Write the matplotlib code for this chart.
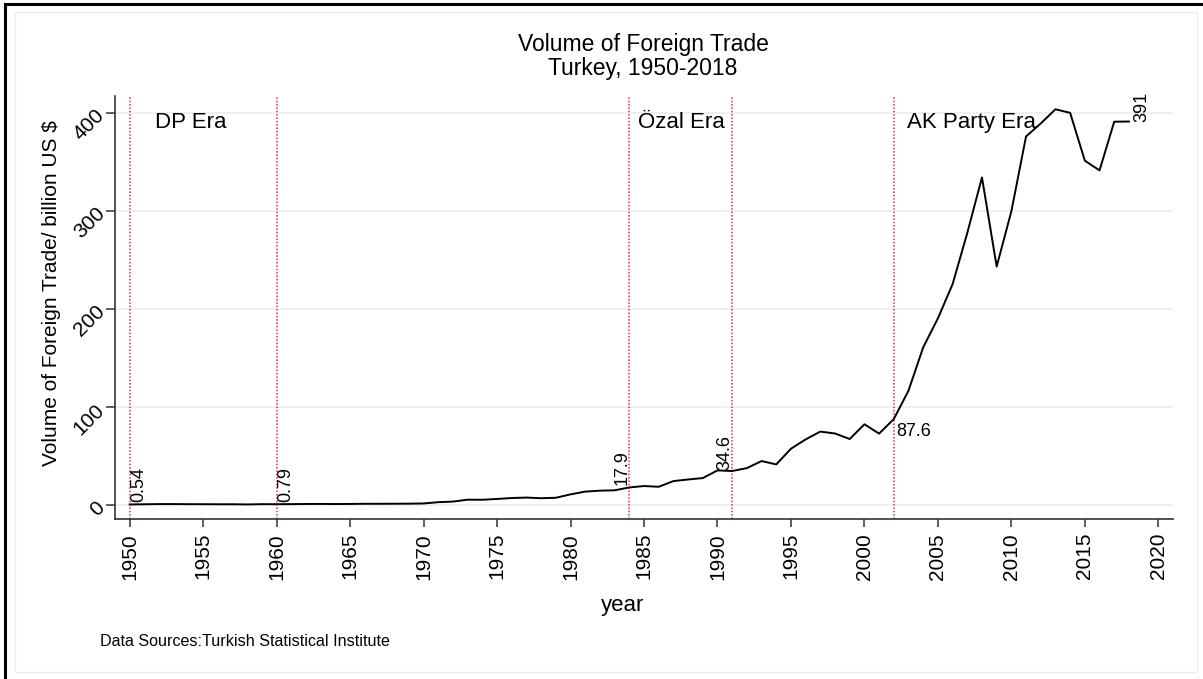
import matplotlib
matplotlib.use("Agg")
import matplotlib.pyplot as plt
from matplotlib.lines import Line2D
from matplotlib.patches import Rectangle

plt.rcParams['font.family'] = ['Liberation Sans', 'DejaVu Sans']

# data: Turkey volume of foreign trade (exports + imports), billion US $
years = list(range(1950, 2019))
volume = [0.54, 0.72, 0.92, 0.93, 0.81, 0.81, 0.71, 0.74, 0.56, 0.82,
          0.79, 0.86, 1.01, 1.06, 0.95, 1.04, 1.21, 1.21, 1.26, 1.34,
          1.54, 2.85, 3.45, 5.40, 5.31, 6.14, 7.09, 7.55, 6.89, 7.33,
          10.82, 13.64, 14.59, 14.96, 17.89, 19.30, 18.56, 24.35, 26.00, 27.42,
          35.26, 34.64, 37.59, 44.77, 41.38, 57.35, 66.85, 74.82, 72.90, 67.26,
          82.28, 72.73, 87.61, 116.59, 160.71, 190.25, 225.11, 277.33, 333.99, 243.07,
          299.43, 375.75, 389.01, 403.46, 399.84, 351.07, 341.15, 390.79, 390.97]

era_lines = [1950, 1960, 1984, 1991, 2002]
era_names = ["DP Era", "Özal Era", "AK Party Era"]
era_text_x = [1951.7, 1984.6, 2002.9]
# labelled points: year, text, (dx, dy) offset in px, rotation, ha, va
point_labels = [(1950, "0.54", (1, 2), 90, "left", "bottom"),
                (1960, "0.79", (1, 2), 90, "left", "bottom"),
                (1984, "17.9", (1, 2), 90, "right", "bottom"),
                (1991, "34.6", (1, 1), 90, "right", "bottom"),
                (2002, "87.6", (2, -4), 0, "left", "top"),
                (2018, "391", (4, 0), 90, "left", "bottom")]

W, H = 1203, 679
fig = plt.figure(figsize=(W / 100, H / 100), dpi=100)
fig.patch.set_facecolor("white")


def fx(px):
    return px / W


def fy(py):
    return 1 - py / H


# outer frame
fig.add_artist(Line2D([fx(5), 1], [fy(4), fy(4)], color="black", lw=2.2, transform=fig.transFigure))
fig.add_artist(Line2D([fx(5), fx(5)], [fy(4), 0], color="black", lw=2.2, transform=fig.transFigure))
fig.add_artist(Rectangle((fx(15), fy(672)), fx(1197) - fx(15), fy(12) - fy(672),
                         fill=False, ec="#e6eef0", lw=1, transform=fig.transFigure))

ax = fig.add_axes([fx(115), fy(519), fx(1173) - fx(115), fy(96) - fy(519)])
ax.set_facecolor("none")

ax.plot(years, volume, color="black", lw=1.4, zorder=3)

for x in era_lines:
    ax.axvline(x, color="#dc2a5a", lw=1.1, ls=(0, (1, 1.2)), zorder=2)

for x, name in zip(era_text_x, era_names):
    ax.text(x, 390, name, fontsize=16, ha="left", va="center", zorder=4)

for yr, txt, (dx, dy), rot, ha, va in point_labels:
    yv = volume[years.index(yr)]
    ax.annotate(txt, (yr, yv), xytext=(dx * 0.72, dy * 0.72), textcoords="offset points",
                rotation=rot, ha=ha, va=va, fontsize=13, zorder=4)

ax.set_xlim(1949, 2021)
ax.set_ylim(-14.3, 417)
ax.set_xticks(range(1950, 2021, 5))
ax.set_yticks([0, 100, 200, 300, 400])
ax.grid(axis="y", color="#e8eff1", lw=1.2)
ax.set_axisbelow(True)

for s in ["top", "right"]:
    ax.spines[s].set_visible(False)
for s in ["left", "bottom"]:
    ax.spines[s].set_color("#333333")
    ax.spines[s].set_linewidth(1.2)

ax.tick_params(axis="x", length=6, width=1.1, color="#333333", labelsize=15, pad=4, labelrotation=90)
ax.tick_params(axis="y", length=6.5, width=1.1, color="#333333", labelsize=15, pad=3)
for lab in ax.get_yticklabels():
    lab.set_rotation(45)
    lab.set_rotation_mode("anchor")
    lab.set_ha("right")
    lab.set_va("center")

fig.text(fx(643), fy(45), "Volume of Foreign Trade", fontsize=16.5, ha="center", va="center")
fig.text(fx(643), fy(68), "Turkey, 1950-2018", fontsize=16.5, ha="center", va="center")
fig.text(fx(52), fy(293), "Volume of Foreign Trade/ billion US $", fontsize=15,
         rotation=90, ha="center", va="center")
fig.text(fx(623), fy(606), "year", fontsize=16, ha="center", va="center")
fig.text(fx(100), fy(641), "Data Sources:Turkish Statistical Institute", fontsize=11.6,
         ha="left", va="center")

fig.savefig("out.png", dpi=100)
